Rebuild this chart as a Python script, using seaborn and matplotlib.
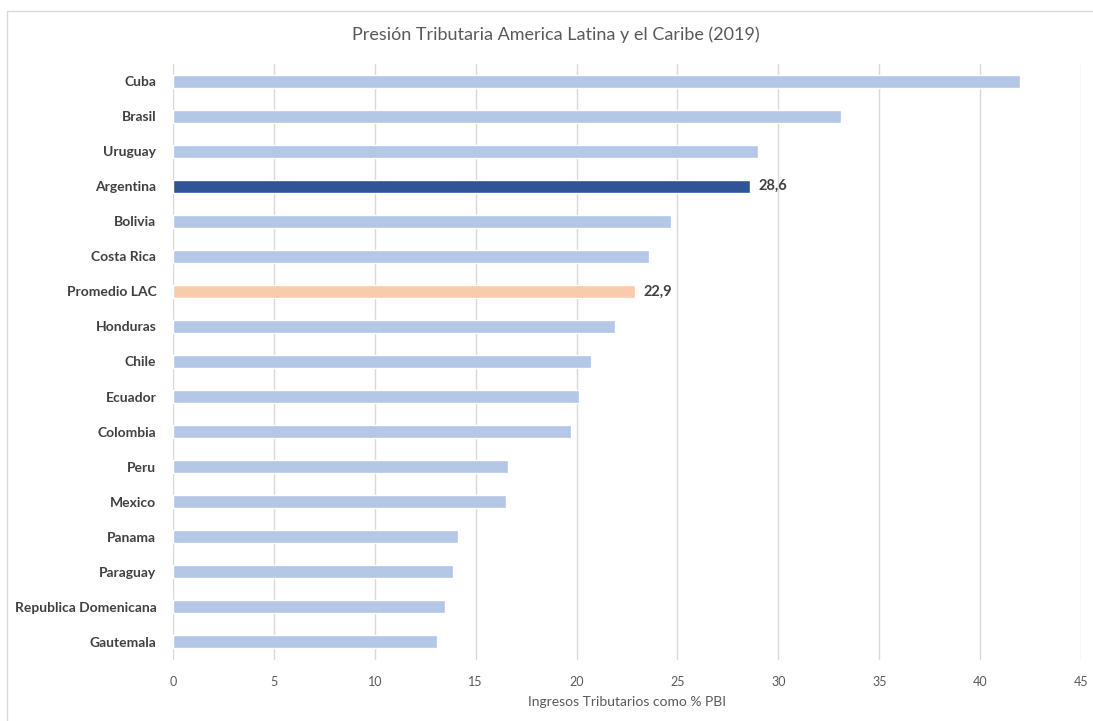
import matplotlib
matplotlib.use("Agg")
import matplotlib.pyplot as plt
import seaborn as sns
import pandas as pd
from matplotlib.patches import Rectangle

countries = ["Cuba", "Brasil", "Uruguay", "Argentina", "Bolivia", "Costa Rica",
             "Promedio LAC", "Honduras", "Chile", "Ecuador", "Colombia", "Peru",
             "Mexico", "Panama", "Paraguay", "Republica Domenicana", "Gautemala"]
values = [42.0, 33.1, 29.0, 28.6, 24.7, 23.6, 22.9, 21.9, 20.7, 20.1, 19.7,
          16.6, 16.5, 14.1, 13.9, 13.5, 13.1]
labeled = {"Argentina": "28,6", "Promedio LAC": "22,9"}
xticks = [0, 5, 10, 15, 20, 25, 30, 35, 40, 45]

base_color = "#B4C7E7"
highlight = {"Argentina": "#2F5597", "Promedio LAC": "#F8CBAD"}
palette = {c: highlight.get(c, base_color) for c in countries}

df = pd.DataFrame({"country": countries, "value": values})

sns.set_theme(style="white")
plt.rcParams["font.family"] = ["Lato", "DejaVu Sans"]

fig = plt.figure(figsize=(10.93, 7.21), dpi=100)
ax = fig.add_axes([173 / 1093, 1 - 659.5 / 721, (1081 - 173) / 1093, (659.5 - 63.5) / 721])

sns.barplot(data=df, y="country", x="value", hue="country", palette=palette,
            order=countries, hue_order=countries, width=0.37, legend=False,
            orient="h", ax=ax, saturation=1)

ax.set_xlim(0, 45)
ax.set_xticks(xticks)
ax.set_xticklabels([str(t) for t in xticks], color="#595959", fontsize=9)
ax.xaxis.grid(True, color="#D9D9D9", linewidth=1)
ax.set_axisbelow(True)
for s in ax.spines.values():
    s.set_visible(False)
ax.tick_params(axis="both", length=0)
ax.tick_params(axis="x", pad=12)
ax.tick_params(axis="y", pad=12)
for lbl in ax.get_yticklabels():
    lbl.set_fontweight("bold")
    lbl.set_color("#404040")
    lbl.set_fontsize(10)
ax.set_ylabel("")
ax.set_xlabel("Ingresos Tributarios como % PBI", color="#595959", fontsize=10, labelpad=6)

for i, (c, v) in enumerate(zip(countries, values)):
    if c in labeled:
        ax.text(v + 0.4, i, labeled[c], va="center", ha="left", fontsize=10.5,
                fontweight="bold", color="#404040")

fig.text(556 / 1093, 1 - 35 / 721, "Presión Tributaria America Latina y el Caribe (2019)",
         ha="center", va="center", fontsize=13, color="#595959")

fig.patches.append(Rectangle((7 / 1093, -0.1), 1.2, 1.1 - 10.5 / 721,
                             transform=fig.transFigure, fill=False,
                             edgecolor="#D9D9D9", linewidth=1))

fig.savefig("out.png", dpi=100)
